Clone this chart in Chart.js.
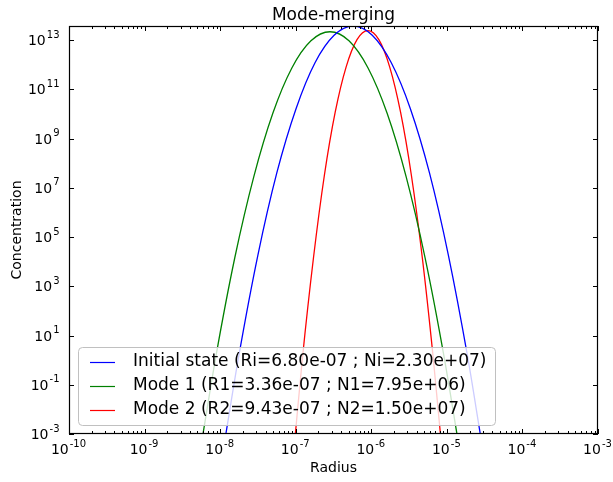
<!DOCTYPE html>
<html>
<head>
<meta charset="utf-8">
<title>Mode-merging</title>
<script src="https://cdn.jsdelivr.net/npm/chart.js@4.4.0/dist/chart.umd.min.js"></script>
<style>
  html, body { margin: 0; padding: 0; background: #fff; }
</style>
</head>
<body>
<canvas id="modeChart" width="613" height="482"></canvas>
<script>
// data (radius, concentration)
const initialRadius = [1.19e-8, 1.76e-8, 3.15e-8, 5.62e-8, 1.01e-7, 1.80e-7, 3.22e-7, 5.75e-7, 1.03e-6, 1.84e-6, 3.29e-6, 5.89e-6, 1.05e-5, 1.88e-5, 2.77e-5];
const initialConc = [1e-3, 1.41, 1.78e4, 4.03e7, 1.64e10, 1.20e12, 1.57e13, 3.72e13, 1.57e13, 1.20e12, 1.64e10, 4.03e7, 1.78e4, 1.41, 1e-3];

const mode1Radius = [5.93e-9, 8.73e-9, 1.56e-8, 2.79e-8, 4.98e-8, 8.89e-8, 1.59e-7, 2.84e-7, 5.07e-7, 9.06e-7, 1.62e-6, 2.89e-6, 5.16e-6, 9.23e-6, 1.36e-5];
const mode1Conc = [1e-3, 1.27, 1.41e4, 2.87e7, 1.07e10, 7.40e11, 9.38e12, 2.19e13, 9.38e12, 7.40e11, 1.07e10, 2.87e7, 1.41e4, 1.27, 1e-3];

const mode2Radius = [9.89e-8, 1.23e-7, 1.72e-7, 2.39e-7, 3.33e-7, 4.65e-7, 6.47e-7, 9.02e-7, 1.26e-6, 1.75e-6, 2.44e-6, 3.40e-6, 4.73e-6, 6.59e-6, 8.22e-6];
const mode2Conc = [1e-3, 1.30, 1.48e4, 3.09e7, 1.18e10, 8.22e11, 1.05e13, 2.45e13, 1.05e13, 8.22e11, 1.18e10, 3.09e7, 1.48e4, 1.30, 1e-3];

const seriesLabels = [
  'Initial state (Ri=6.80e-07 ; Ni=2.30e+07)',
  'Mode 1 (R1=3.36e-07 ; N1=7.95e+06)',
  'Mode 2 (R2=9.43e-07 ; N2=1.50e+07)'
];
const seriesColors = ['#0000ff', '#008000', '#ff0000'];

const xTickExponents = [-10, -9, -8, -7, -6, -5, -4, -3];
const yTickExponents = [-3, -1, 1, 3, 5, 7, 9, 11, 13];
const minorMultiples = [2, 3, 4, 5, 6, 7, 8, 9];

const FONT = '"DejaVu Sans", "Liberation Sans", sans-serif';

function isMajor(v) {
  const e = Math.log10(v);
  return Math.abs(e - Math.round(e)) < 1e-6;
}

function toPoints(xs, ys) {
  return xs.map((x, i) => ({x: x, y: ys[i]}));
}

// draws "10" with a raised exponent, like matplotlib mathtext
function drawPow(ctx, exp, x, baseline, align) {
  ctx.font = '14px ' + FONT;
  const wBase = ctx.measureText('10').width;
  ctx.font = '10px ' + FONT;
  const wExp = ctx.measureText(String(exp)).width;
  const total = wBase + 1 + wExp;
  let left = x;
  if (align === 'center') left = x - total / 2;
  if (align === 'right') left = x - total;
  ctx.textAlign = 'left';
  ctx.textBaseline = 'alphabetic';
  ctx.font = '14px ' + FONT;
  ctx.fillText('10', left, baseline);
  ctx.font = '10px ' + FONT;
  ctx.fillText(String(exp), left + wBase + 1, baseline - 7.5);
}

// frame, inward tick marks on all four sides, tick labels and title
const frameTicks = {
  id: 'frameTicks',
  afterDatasetsDraw(chart) {
    const {ctx, chartArea: a, scales: {x, y}} = chart;
    ctx.save();
    ctx.strokeStyle = '#000';
    ctx.lineWidth = 1;
    ctx.beginPath();
    x.ticks.forEach(t => {
      const px = Math.round(x.getPixelForValue(t.value)) + 0.5;
      const len = isMajor(t.value) ? 5 : 3;
      ctx.moveTo(px, a.bottom); ctx.lineTo(px, a.bottom - len);
      ctx.moveTo(px, a.top); ctx.lineTo(px, a.top + len);
    });
    y.ticks.forEach(t => {
      const py = Math.round(y.getPixelForValue(t.value)) + 0.5;
      ctx.moveTo(a.left, py); ctx.lineTo(a.left + 5, py);
      ctx.moveTo(a.right, py); ctx.lineTo(a.right - 5, py);
    });
    ctx.stroke();
    ctx.lineWidth = 1.2;
    ctx.strokeRect(a.left + 0.5, a.top + 0.5, a.right - a.left - 1, a.bottom - a.top - 1);

    ctx.fillStyle = '#000';
    x.ticks.forEach(t => {
      if (!isMajor(t.value)) return;
      drawPow(ctx, Math.round(Math.log10(t.value)), x.getPixelForValue(t.value) - 0.5, a.bottom + 20, 'center');
    });
    y.ticks.forEach(t => {
      drawPow(ctx, Math.round(Math.log10(t.value)), a.left - 9.5, y.getPixelForValue(t.value) + 5, 'right');
    });

    // title over the axes
    ctx.font = '17px ' + FONT;
    ctx.textAlign = 'center';
    ctx.textBaseline = 'alphabetic';
    ctx.fillText('Mode-merging', (a.left + a.right) / 2, 20);
    ctx.restore();
  }
};

// legend box in the lower-left corner of the axes
const boxLegend = {
  id: 'boxLegend',
  afterDatasetsDraw(chart) {
    const ctx = chart.ctx;
    const bx = 78.5, by = 347.5, bw = 417, bh = 78, r = 4;
    ctx.save();
    ctx.beginPath();
    ctx.moveTo(bx + r, by);
    ctx.arcTo(bx + bw, by, bx + bw, by + bh, r);
    ctx.arcTo(bx + bw, by + bh, bx, by + bh, r);
    ctx.arcTo(bx, by + bh, bx, by, r);
    ctx.arcTo(bx, by, bx + bw, by, r);
    ctx.closePath();
    ctx.fillStyle = 'rgba(255,255,255,0.8)';
    ctx.fill();
    ctx.strokeStyle = '#c0c0c0';
    ctx.lineWidth = 1;
    ctx.stroke();

    ctx.font = '17px ' + FONT;
    ctx.textAlign = 'left';
    ctx.textBaseline = 'middle';
    chart.data.datasets.forEach((ds, i) => {
      const rowY = 362 + i * 24;
      ctx.strokeStyle = ds.borderColor;
      ctx.lineWidth = 1.2;
      ctx.beginPath();
      ctx.moveTo(90, rowY + 0.5);
      ctx.lineTo(115, rowY + 0.5);
      ctx.stroke();
      ctx.fillStyle = '#000';
      ctx.fillText(ds.label, 133, rowY);
    });
    ctx.restore();
  }
};

const ctx = document.getElementById('modeChart').getContext('2d');
new Chart(ctx, {
  type: 'line',
  data: {
    datasets: [
      {label: seriesLabels[0], data: toPoints(initialRadius, initialConc), borderColor: seriesColors[0]},
      {label: seriesLabels[1], data: toPoints(mode1Radius, mode1Conc), borderColor: seriesColors[1]},
      {label: seriesLabels[2], data: toPoints(mode2Radius, mode2Conc), borderColor: seriesColors[2]}
    ].map(ds => Object.assign(ds, {
      borderWidth: 1.3,
      pointRadius: 0,
      fill: false,
      cubicInterpolationMode: 'monotone'
    }))
  },
  options: {
    responsive: false,
    animation: false,
    devicePixelRatio: 1,
    layout: {padding: {top: 26, right: 15, bottom: 0, left: 0}},
    plugins: {
      legend: {display: false},
      title: {display: false},
      tooltip: {enabled: false}
    },
    scales: {
      x: {
        type: 'logarithmic',
        min: 1e-10,
        max: 1e-3,
        grid: {display: false, drawTicks: false},
        border: {display: false},
        afterBuildTicks(scale) {
          const ticks = [];
          xTickExponents.forEach(e => {
            ticks.push({value: Math.pow(10, e)});
            if (e < -3) minorMultiples.forEach(m => ticks.push({value: m * Math.pow(10, e)}));
          });
          scale.ticks = ticks.sort((p, q) => p.value - q.value);
        },
        afterFit(scale) {
          scale.height = 48;
          scale.paddingLeft = 0;
          scale.paddingRight = 0;
        },
        ticks: {display: false, autoSkip: false},
        title: {
          display: true,
          text: 'Radius',
          color: '#000',
          font: {family: FONT, size: 14},
          padding: {top: 0, bottom: 5}
        }
      },
      y: {
        type: 'logarithmic',
        min: 1e-3,
        max: 3.75e13,
        grid: {display: false, drawTicks: false},
        border: {display: false},
        afterBuildTicks(scale) {
          scale.ticks = yTickExponents.map(e => ({value: Math.pow(10, e)}));
        },
        afterFit(scale) {
          scale.width = 69;
          scale.paddingTop = 0;
          scale.paddingBottom = 0;
        },
        ticks: {display: false, autoSkip: false},
        title: {
          display: true,
          text: 'Concentration',
          color: '#000',
          font: {family: FONT, size: 14},
          padding: {top: 9, bottom: 0}
        }
      }
    }
  },
  plugins: [frameTicks, boxLegend]
});
</script>
</body>
</html>
